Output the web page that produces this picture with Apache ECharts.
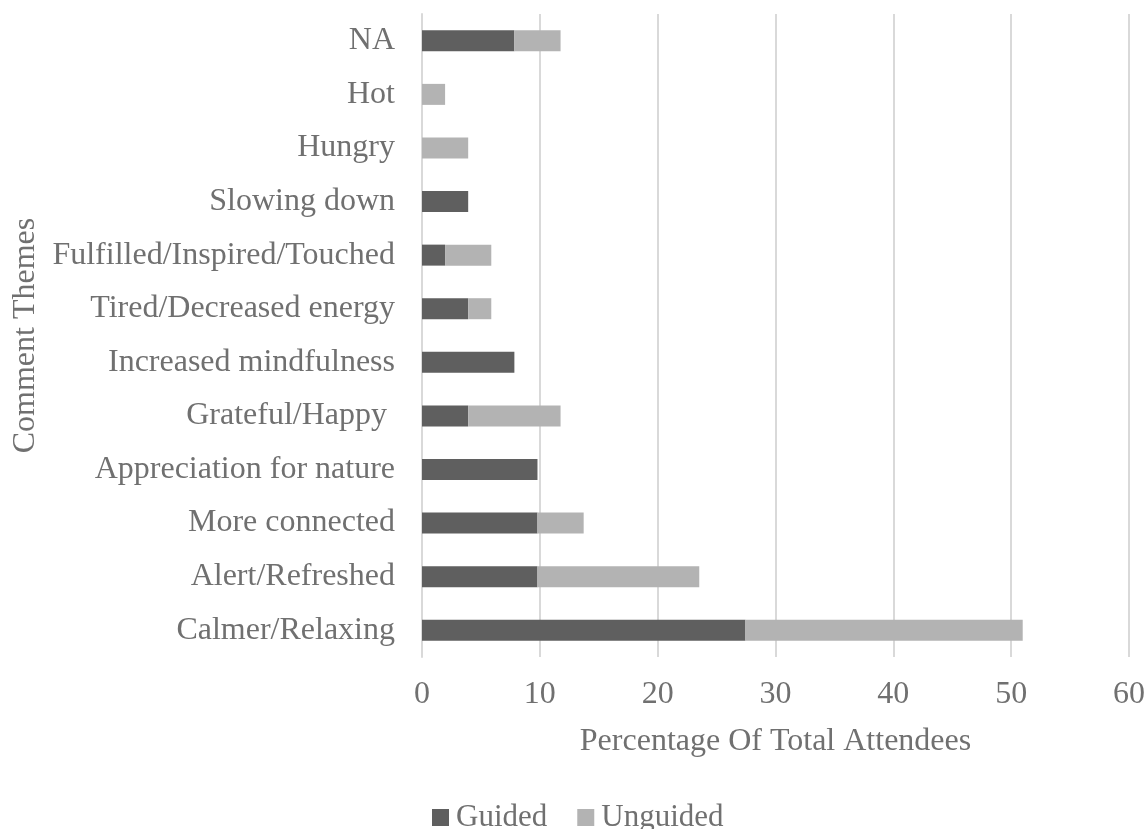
<!DOCTYPE html>
<html><head><meta charset="utf-8">
<script src="https://cdn.jsdelivr.net/npm/echarts@6/dist/echarts.min.js"></script>
<style>html,body{margin:0;padding:0;background:#fff}#c{width:1148px;height:829px}</style>
</head><body><div id="c"></div>
<script>
const categories = ["Calmer/Relaxing","Alert/Refreshed","More connected","Appreciation for nature","Grateful/Happy ","Increased mindfulness","Tired/Decreased energy","Fulfilled/Inspired/Touched","Slowing down","Hungry","Hot","NA"];
const guided =   [27.45, 9.80, 9.80, 9.80, 3.92, 7.84, 3.92, 1.96, 3.92, 0, 0, 7.84];
const unguided = [23.53, 13.73, 3.92, 0, 7.84, 0, 1.96, 3.92, 0, 3.92, 1.96, 3.92];
const xTicks = [0, 10, 20, 30, 40, 50, 60];

const font = "'Liberation Serif','Times New Roman',serif";
const txt = '#707070';
const fs = 32;
const chart = echarts.init(document.getElementById('c'), null, {renderer:'canvas'});
chart.setOption({
  animation:false,
  textStyle:{fontFamily:font},
  grid:{left:422, right:18, top:14, bottom:172, containLabel:false},
  legend:{top:802, left:432, padding:0, itemWidth:17, itemHeight:17, itemGap:30,
    icon:'rect',
    textStyle:{fontFamily:font, fontSize:31, color:txt, padding:[0,0,0,2]},
    data:['Guided','Unguided']},
  xAxis:{type:'value', min:xTicks[0], max:xTicks[xTicks.length-1], interval:10,
    name:'Percentage Of Total Attendees', nameLocation:'middle', nameGap:69,
    nameTextStyle:{fontFamily:font, fontSize:fs, color:txt},
    axisLine:{show:false}, axisTick:{show:false},
    axisLabel:{fontFamily:font, fontSize:fs, color:txt, margin:22},
    splitLine:{lineStyle:{color:'#d9d9d9', width:2}}},
  yAxis:{type:'category', data:categories,
    name:'Comment Themes', nameLocation:'middle', nameGap:379, nameRotate:90,
    nameTextStyle:{fontFamily:font, fontSize:fs, color:txt},
    axisLine:{lineStyle:{color:'#d9d9d9', width:2}}, axisTick:{show:false},
    axisLabel:{fontFamily:font, fontSize:fs, color:txt, margin:27}},
  series:[
    {name:'Guided', type:'bar', stack:'a', data:guided, barWidth:21,
     itemStyle:{color:'#5f5f5f'}},
    {name:'Unguided', type:'bar', stack:'a', data:unguided, barWidth:21,
     itemStyle:{color:'#b3b3b3'}}
  ]
});
</script></body></html>
